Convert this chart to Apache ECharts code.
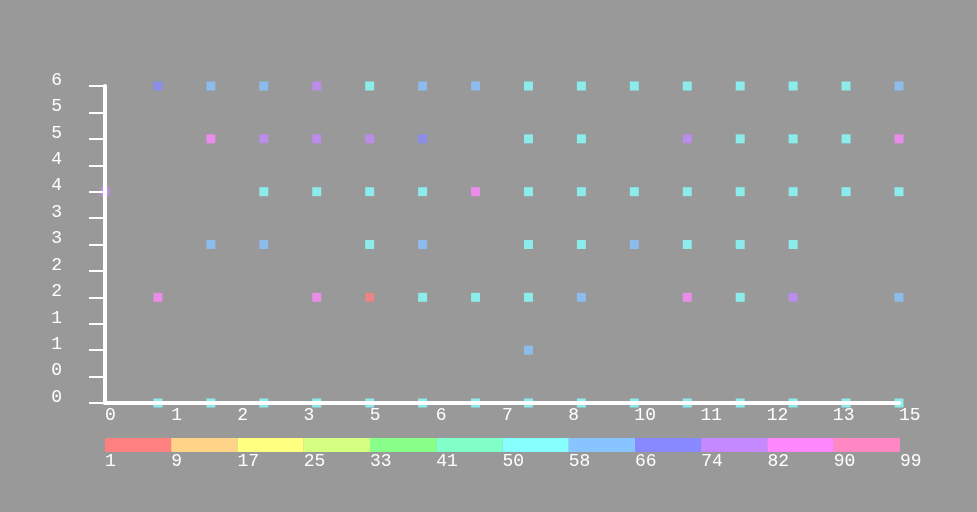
<!DOCTYPE html>
<html>
<head>
<meta charset="utf-8">
<script src="https://cdn.jsdelivr.net/npm/echarts@6/dist/echarts.min.js"></script>
<style>
html,body{margin:0;padding:0;background:#999999;}
#chart{width:977px;height:512px;}
</style>
</head>
<body>
<div id="chart"></div>
<script>
// Tick labels
const xTickLabels = ['0','1','2','3','5','6','7','8','10','11','12','13','15'];
const yTickLabels = ['0','0','1','1','2','2','3','3','4','4','5','5','6'];
// Colour scale (legend)
const legendLabels = ['1','9','17','25','33','41','50','58','66','74','82','90','99'];
const legendColors = ['#ff8080','#ffd488','#ffff80','#d4ff80','#88ff88','#80ffc8',
                      '#88ffff','#88c4ff','#8888ff','#c488ff','#ff88ff','#ff88c4'];
// Values per row (index = x from 0 to 15), null = no point
const row0 = [null,54,54,54,54,54,54,54,54,54,54,54,54,54,54,54];
const row1 = [null,null,null,null,null,null,null,null,62,null,null,null,null,null,null,null];
const row2 = [null,86,null,null,86,5,54,54,54,62,null,86,54,76,null,62];
const row3 = [null,null,62,62,null,54,62,null,54,54,62,56,54,54,null,null];
const row4 = [76,null,null,54,54,54,54,86,54,54,54,54,54,54,54,54];
const row5 = [null,null,86,76,76,76,70,null,54,54,null,76,54,54,54,86];
const row6 = [null,70,62,62,78,54,62,62,54,54,54,54,54,54,54,62];
const rows = [row0,row1,row2,row3,row4,row5,row6];

const points = [];
rows.forEach((r, y) => r.forEach((v, x) => { if (v !== null) points.push([x, y, v]); }));

const pieces = legendColors.map((c, i) => {
  const p = { gte: Number(legendLabels[i]), color: c };
  if (i < legendColors.length - 1) p.lt = Number(legendLabels[i + 1]); else p.lte = Number(legendLabels[i + 1]);
  return p;
});

const font = 'Liberation Mono';
const chart = echarts.init(document.getElementById('chart'));
chart.setOption({
  backgroundColor: '#999999',
  animation: false,
  grid: [
    { left: 105, right: 78, top: 86, bottom: 109 },
    { left: 105, right: 77, top: 438, height: 14 }
  ],
  xAxis: [
    {
      gridIndex: 0, type: 'value', min: 0, max: 15, interval: 1.25, z: 5,
      axisLine: { show: true, lineStyle: { color: '#ffffff', width: 4 } },
      axisTick: { show: false },
      splitLine: { show: false },
      axisLabel: {
        color: '#ffffff', fontFamily: font, fontSize: 18, align: 'left', margin: 3,
        formatter: v => xTickLabels[Math.round(v / 1.25)]
      }
    },
    {
      gridIndex: 1, type: 'value', min: 0, max: 12, interval: 1,
      axisLine: { show: false }, axisTick: { show: false }, splitLine: { show: false },
      axisLabel: {
        color: '#ffffff', fontFamily: font, fontSize: 18, align: 'left', margin: 0,
        formatter: v => legendLabels[Math.round(v)]
      }
    }
  ],
  yAxis: [
    {
      gridIndex: 0, type: 'value', min: 0, max: 6, interval: 0.5, z: 5,
      axisLine: { show: true, lineStyle: { color: '#ffffff', width: 4 } },
      axisTick: { show: true, length: 16, lineStyle: { color: '#ffffff', width: 2 } },
      splitLine: { show: false },
      axisLabel: {
        color: '#ffffff', fontFamily: font, fontSize: 18, margin: 43,
        verticalAlign: 'bottom', lineHeight: 12,
        formatter: v => yTickLabels[Math.round(v / 0.5)]
      }
    },
    { gridIndex: 1, type: 'value', min: 0, max: 1, show: false }
  ],
  visualMap: {
    show: false, type: 'piecewise', seriesIndex: 0, dimension: 2, pieces: pieces
  },
  series: [
    {
      type: 'scatter', xAxisIndex: 0, yAxisIndex: 0,
      symbol: 'rect', symbolSize: 9,
      data: points
    },
    {
      type: 'custom', xAxisIndex: 1, yAxisIndex: 1,
      data: legendColors.map((c, i) => [i, i + 1]),
      encode: { x: [0, 1] },
      renderItem: (params, api) => {
        const a = api.coord([api.value(0), 1]);
        const b = api.coord([api.value(1), 0]);
        return {
          type: 'rect',
          shape: { x: a[0], y: a[1], width: b[0] - a[0], height: b[1] - a[1] },
          style: { fill: legendColors[params.dataIndex] }
        };
      }
    }
  ]
});
</script>
</body>
</html>
